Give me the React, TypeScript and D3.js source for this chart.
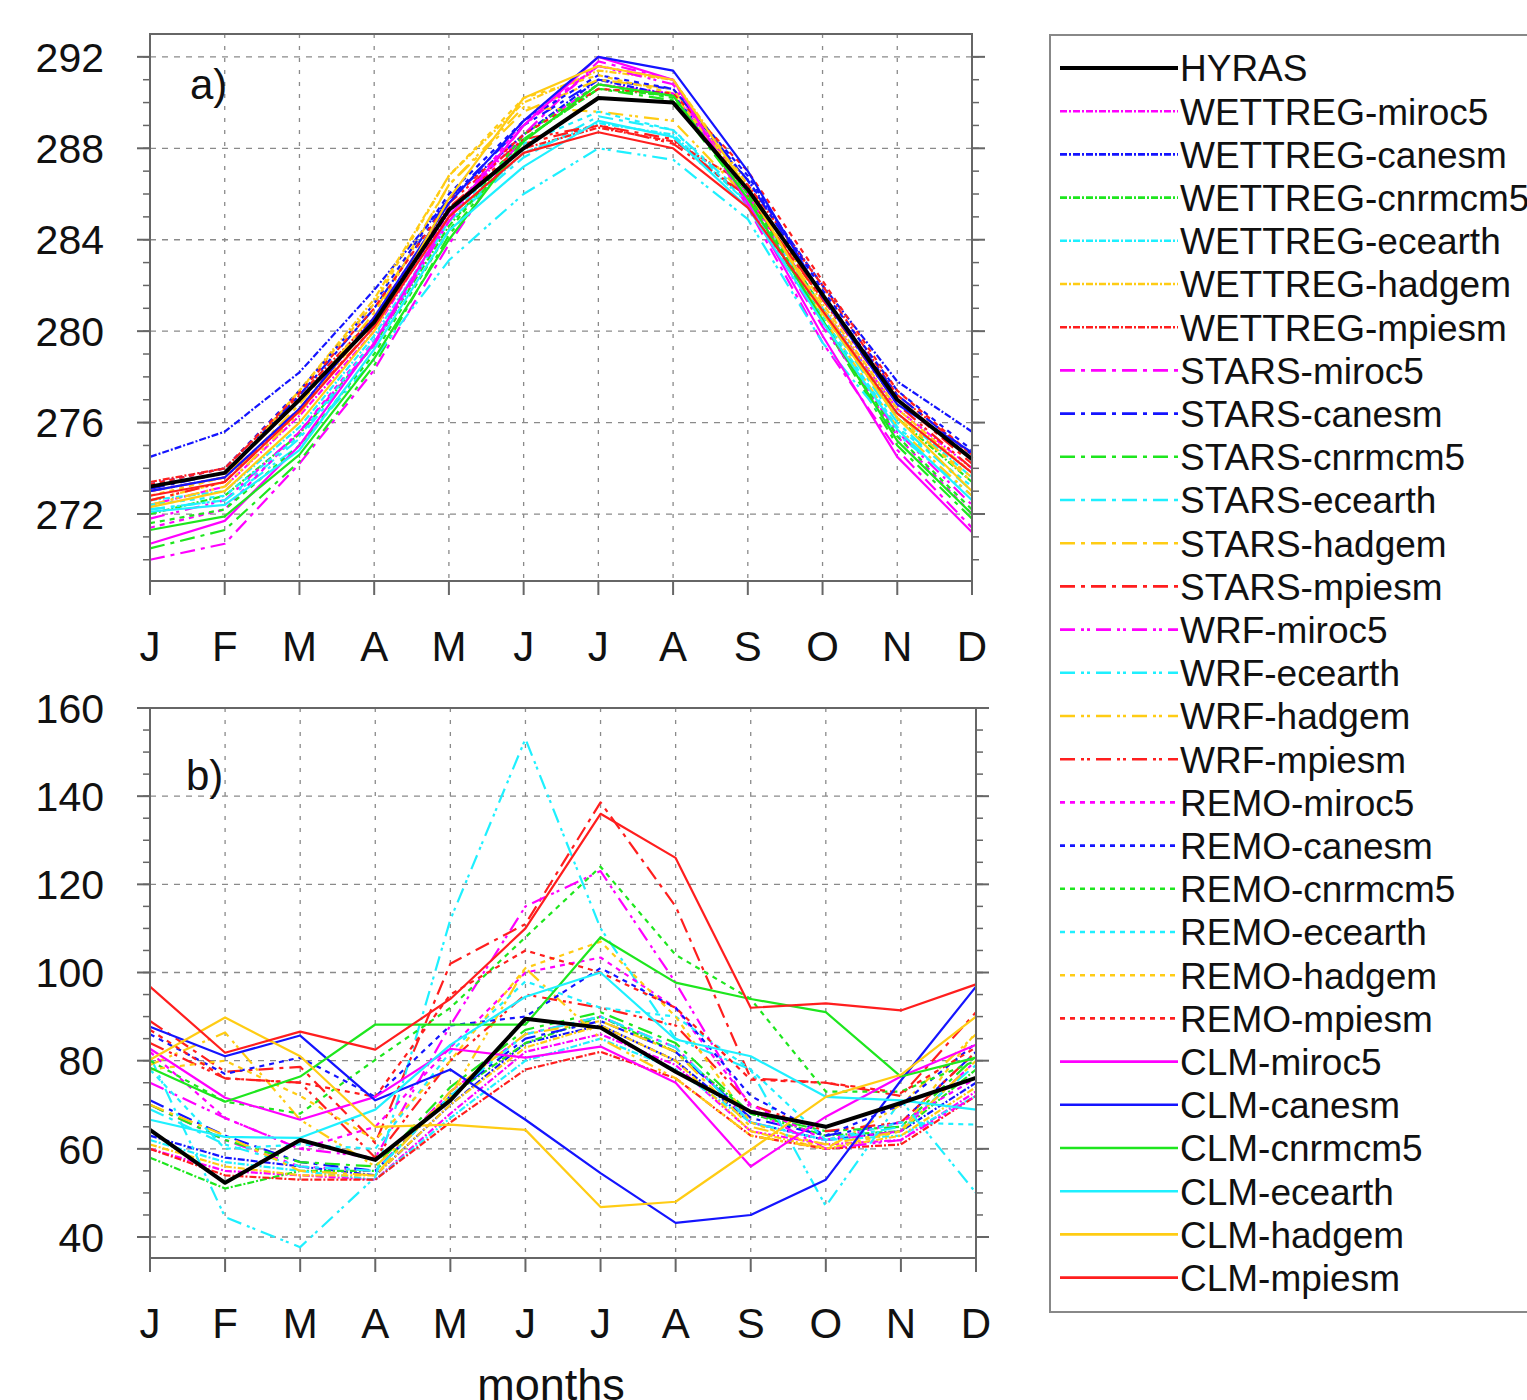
import React from "react";
import * as d3 from "d3";

const months = ["J", "F", "M", "A", "M", "J", "J", "A", "S", "O", "N", "D"];
const tempTicks = [272, 276, 280, 284, 288, 292];
const precTicks = [40, 60, 80, 100, 120, 140, 160];

const seriesNames = [
  "HYRAS",
  "WETTREG-miroc5", "WETTREG-canesm", "WETTREG-cnrmcm5", "WETTREG-ecearth", "WETTREG-hadgem", "WETTREG-mpiesm",
  "STARS-miroc5", "STARS-canesm", "STARS-cnrmcm5", "STARS-ecearth", "STARS-hadgem", "STARS-mpiesm",
  "WRF-miroc5", "WRF-ecearth", "WRF-hadgem", "WRF-mpiesm",
  "REMO-miroc5", "REMO-canesm", "REMO-cnrmcm5", "REMO-ecearth", "REMO-hadgem", "REMO-mpiesm",
  "CLM-miroc5", "CLM-canesm", "CLM-cnrmcm5", "CLM-ecearth", "CLM-hadgem", "CLM-mpiesm",
];

// panel a) temperature (K)
const tempValues = [
  [273.2, 273.8, 277.0, 280.4, 285.3, 288.0, 290.2, 290.0, 286.2, 281.6, 277.0, 274.4],
  [272.4, 273.2, 276.3, 280.0, 285.2, 288.6, 290.8, 290.4, 286.0, 281.0, 276.6, 274.0],
  [274.5, 275.6, 278.2, 281.8, 285.8, 288.6, 291.0, 290.3, 286.6, 282.0, 277.8, 275.6],
  [272.0, 272.8, 275.5, 279.4, 284.6, 288.4, 290.6, 290.3, 286.0, 281.0, 276.2, 273.4],
  [272.6, 273.0, 275.8, 279.8, 284.8, 287.8, 289.1, 288.6, 285.6, 281.0, 276.4, 273.6],
  [273.0, 273.6, 277.4, 281.4, 286.8, 290.0, 291.4, 291.0, 286.4, 281.2, 276.6, 273.8],
  [273.4, 274.0, 277.2, 280.6, 285.4, 288.0, 288.9, 288.3, 286.4, 282.0, 277.2, 274.6],
  [270.0, 270.7, 274.2, 278.3, 283.8, 288.6, 291.8, 291.0, 285.4, 279.5, 274.8, 271.4],
  [273.1, 273.8, 277.2, 281.0, 285.8, 289.0, 291.0, 290.6, 286.6, 281.6, 277.2, 274.6],
  [270.5, 271.3, 274.3, 278.5, 284.2, 288.4, 290.6, 290.1, 285.8, 280.4, 275.0, 271.8],
  [272.2, 272.6, 275.3, 279.4, 284.8, 287.6, 289.4, 288.8, 285.8, 280.8, 276.0, 273.0],
  [272.6, 273.4, 276.8, 280.8, 286.4, 289.6, 291.0, 290.6, 286.2, 281.0, 276.4, 273.4],
  [273.0, 273.6, 276.6, 280.2, 285.4, 288.2, 289.0, 288.4, 285.8, 281.4, 277.0, 274.2],
  [271.8, 272.6, 275.6, 279.4, 284.8, 289.0, 291.6, 290.8, 285.6, 280.2, 275.6, 272.4],
  [272.2, 272.6, 275.0, 278.8, 283.1, 286.0, 288.0, 287.5, 284.9, 279.5, 275.5, 272.8],
  [272.4, 273.2, 276.4, 280.6, 286.4, 289.8, 289.6, 289.2, 285.8, 280.6, 275.8, 272.8],
  [272.6, 273.4, 276.6, 280.6, 285.6, 288.4, 289.0, 288.2, 285.9, 281.4, 276.8, 274.0],
  [271.4, 272.2, 275.6, 279.6, 285.0, 289.2, 291.6, 291.0, 286.0, 280.4, 275.4, 272.0],
  [273.3, 274.0, 277.4, 281.2, 286.0, 289.2, 291.2, 290.6, 286.8, 281.8, 277.4, 274.8],
  [271.6, 272.2, 275.0, 279.0, 284.4, 288.6, 290.8, 290.2, 286.0, 280.6, 275.4, 272.2],
  [272.4, 272.8, 275.4, 279.6, 285.0, 288.2, 289.6, 288.8, 285.6, 280.6, 275.8, 273.2],
  [272.8, 273.6, 277.4, 281.2, 286.8, 290.2, 291.2, 290.4, 286.2, 280.8, 276.2, 273.6],
  [273.3, 274.0, 277.3, 281.0, 285.7, 288.6, 290.6, 290.4, 287.0, 282.2, 277.4, 274.6],
  [270.7, 271.7, 275.0, 279.5, 285.0, 289.0, 292.0, 291.0, 285.6, 279.8, 274.5, 271.2],
  [273.0, 273.6, 276.6, 280.6, 285.6, 289.2, 292.0, 291.4, 287.0, 281.5, 276.8, 274.7],
  [271.3, 271.9, 274.6, 278.8, 284.0, 288.3, 290.8, 290.3, 285.8, 280.5, 275.2, 272.0],
  [272.1, 272.4, 274.8, 279.2, 284.4, 287.2, 289.2, 288.5, 285.4, 280.4, 275.7, 272.6],
  [272.3, 273.0, 276.0, 280.0, 285.8, 290.2, 291.6, 291.0, 286.2, 280.8, 276.2, 273.0],
  [272.8, 273.4, 276.5, 280.2, 285.0, 287.8, 288.7, 288.0, 285.4, 280.9, 276.4, 273.8],
];

// panel b) precipitation (mm)
const precValues = [
  [64.3, 52.3, 62.0, 57.5, 71.0, 89.5, 87.5, 77.5, 68.4, 65.0, 70.4, 76.1],
  [60, 55, 54, 53, 68, 82, 86, 79, 64, 61, 62, 73],
  [63, 58, 56, 54, 70, 84, 88, 80, 66, 62, 64, 75],
  [58, 51, 55, 55, 72, 84, 90, 82, 68, 63, 64, 78],
  [62, 57, 55, 53, 67, 80, 85, 78, 66, 62, 63, 72],
  [61, 56, 54, 54, 70, 83, 88, 80, 64, 60, 63, 74],
  [60, 54, 53, 53, 66, 78, 82, 76, 63, 60, 61, 72],
  [70, 62, 56, 55, 73, 86, 90, 83, 66, 62, 64, 80],
  [71, 63, 57, 55, 72, 85, 89, 82, 67, 63, 66, 82],
  [70, 62, 57, 56, 74, 87, 91, 84, 68, 64, 65, 81],
  [69, 61, 56, 55, 72, 86, 90, 83, 66, 62, 65, 79],
  [70, 63, 55, 54, 73, 86, 89, 82, 65, 61, 64, 80],
  [89, 77.5, 78.6, 61.3, 102, 111, 138.6, 115, 76, 75, 72, 91],
  [75, 67, 60, 58, 88, 115, 123, 97.7, 69, 60, 62, 72],
  [81, 44.5, 37.7, 53.6, 112, 153, 110, 85, 78, 47, 71, 50],
  [79, 86.4, 66.6, 56, 72, 101, 85, 76, 63, 60, 70, 86],
  [84, 76, 75, 58, 80, 95, 92, 88, 70, 64, 66, 82],
  [82, 67, 60, 65, 83, 100, 103.4, 92, 70, 62, 66, 76],
  [86, 77, 80.7, 71.8, 88, 90, 101, 92, 72, 63, 70, 84],
  [80, 70.7, 68, 80.2, 92, 108, 124, 104, 94, 73, 73, 80],
  [78, 60, 61, 60, 82, 98, 92, 90, 78, 62, 66, 65.5],
  [78, 80, 72, 62, 80, 101, 107, 90, 66, 60, 64, 86.5],
  [87, 76, 75, 71.8, 95, 105, 100, 92, 75.7, 75, 72.7, 83],
  [82.7, 71.6, 66.6, 71.8, 82.7, 80.7, 83.2, 75, 56, 67.3, 76.4, 83.6],
  [87.7, 81, 85.7, 71, 78, 66.6, 54.5, 43.2, 45, 53, 75.5, 96.8],
  [78.4, 70.7, 76.4, 88.2, 88.2, 88.2, 108, 97.7, 94, 91, 76.4, 80.7],
  [66.6, 62.7, 62.5, 68.9, 83.6, 94.5, 100, 84.8, 81, 71.8, 71, 68.9],
  [80.2, 89.8, 81, 65, 65.5, 64.3, 46.8, 48, 59.8, 71.8, 76.8, 90],
  [96.8, 81.8, 86.6, 82.5, 94, 110, 136, 126, 92, 93, 91.4, 97.3],
];

const gcmColors: Record<string, string> = {
  miroc5: "#ff00ff",
  canesm: "#1414ff",
  cnrmcm5: "#1ee61e",
  ecearth: "#1ef0ff",
  hadgem: "#ffcc14",
  mpiesm: "#ff1e1e",
};
const dashes: Record<string, string> = {
  HYRAS: "none",
  WETTREG: "7,2,2,2",
  STARS: "15,6,4,6",
  WRF: "15,6,3,3,3,6",
  REMO: "5,5",
  CLM: "none",
};

const styleOf = (name: string) => {
  if (name === "HYRAS") return { color: "#000", dash: "none", width: 4 };
  const [rcm, gcm] = name.split("-");
  return { color: gcmColors[gcm], dash: dashes[rcm], width: 2.2 };
};

const font = "'Liberation Sans', Arial, Helvetica, sans-serif";
const gridStroke = "#8a8a8a";
const frameStroke = "#666";

const Panel = ({ values, domain, ticks, minorStep, top, bottom, right, tag }) => {
  const left = 150;
  const x = d3.scaleLinear().domain([0, 11]).range([left, right]);
  const y = d3.scaleLinear().domain(domain).range([bottom, top]);
  const minor = d3.range(Math.ceil(domain[0] / minorStep) * minorStep, domain[1], minorStep);
  const line = d3.line<number>().x((d, i) => x(i)).y(d => y(d));
  // draw CLM/REMO first so HYRAS ends on top
  const order = d3.range(values.length).slice(1).concat([0]);

  return (
    <g>
      {/* grid */}
      {ticks.map(t => (
        <line key={"h" + t} x1={left} x2={right} y1={y(t)} y2={y(t)}
          stroke={gridStroke} strokeWidth={1.3} strokeDasharray="6,6" />
      ))}
      {months.map((m, i) => (i > 0 && i < 11) ? (
        <line key={"v" + i} x1={x(i)} x2={x(i)} y1={top} y2={bottom}
          stroke={gridStroke} strokeWidth={1.3} strokeDasharray="4,8" />
      ) : null)}

      {/* series */}
      <g fill="none" strokeLinejoin="round">
        {order.map(k => {
          const s = styleOf(seriesNames[k]);
          return (
            <path key={k} d={line(values[k]) || ""} stroke={s.color}
              strokeWidth={s.width} strokeDasharray={s.dash} />
          );
        })}
      </g>

      {/* frame + ticks */}
      <rect x={left} y={top} width={right - left} height={bottom - top}
        fill="none" stroke={frameStroke} strokeWidth={2} />
      {minor.map(t => (
        <g key={"m" + t} stroke={frameStroke} strokeWidth={1.5}>
          <line x1={left - 7} x2={left} y1={y(t)} y2={y(t)} />
          <line x1={right} x2={right + 7} y1={y(t)} y2={y(t)} />
        </g>
      ))}
      {ticks.map(t => (
        <g key={"t" + t}>
          <line x1={left - 13} x2={left} y1={y(t)} y2={y(t)} stroke={frameStroke} strokeWidth={2} />
          <line x1={right} x2={right + 13} y1={y(t)} y2={y(t)} stroke={frameStroke} strokeWidth={2} />
          <text x={104} y={y(t)} dy="0.36em" textAnchor="end" fontSize={41} fontFamily={font} fill="#111">{t}</text>
        </g>
      ))}
      {months.map((m, i) => (
        <g key={"x" + i}>
          <line x1={x(i)} x2={x(i)} y1={bottom} y2={bottom + 14} stroke={frameStroke} strokeWidth={2} />
          <text x={x(i)} y={bottom + 80} textAnchor="middle" fontSize={42} fontFamily={font} fill="#111">{m}</text>
        </g>
      ))}
      <text x={tag.x} y={tag.y} fontSize={42} fontFamily={font} fill="#111">{tag.label}</text>
    </g>
  );
};

const Legend = () => {
  const x0 = 1060, x1 = 1178, y0 = 68, step = 43.2;
  return (
    <g>
      <rect x={1050} y={35} width={500} height={1277} fill="#fff" stroke="#888" strokeWidth={2} />
      {seriesNames.map((name, i) => {
        const s = styleOf(name);
        const yy = y0 + i * step;
        return (
          <g key={name}>
            <line x1={x0} x2={x1} y1={yy} y2={yy} stroke={s.color}
              strokeWidth={name === "HYRAS" ? 4 : 2.6} strokeDasharray={s.dash} />
            <text x={1180} y={yy} dy="0.36em" fontSize={37} fontFamily={font} fill="#111">{name}</text>
          </g>
        );
      })}
    </g>
  );
};

const App = () => {
  return (
    <svg width={1527} height={1400} style={{ position: "absolute", left: 0, top: 0, background: "#fff" }}>
      <rect width={1527} height={1400} fill="#fff" />
      <Panel values={tempValues} domain={[269.07, 293.0]} ticks={tempTicks} minorStep={1}
        top={34} bottom={581} right={972} tag={{ x: 190, y: 99, label: "a)" }} />
      <Panel values={precValues} domain={[35.24, 160]} ticks={precTicks} minorStep={5}
        top={708} bottom={1258} right={976} tag={{ x: 186, y: 790, label: "b)" }} />
      <text x={551} y={1400} textAnchor="middle" fontSize={45} fontFamily={font} fill="#111">months</text>
      <Legend />
    </svg>
  );
};

export default App;
